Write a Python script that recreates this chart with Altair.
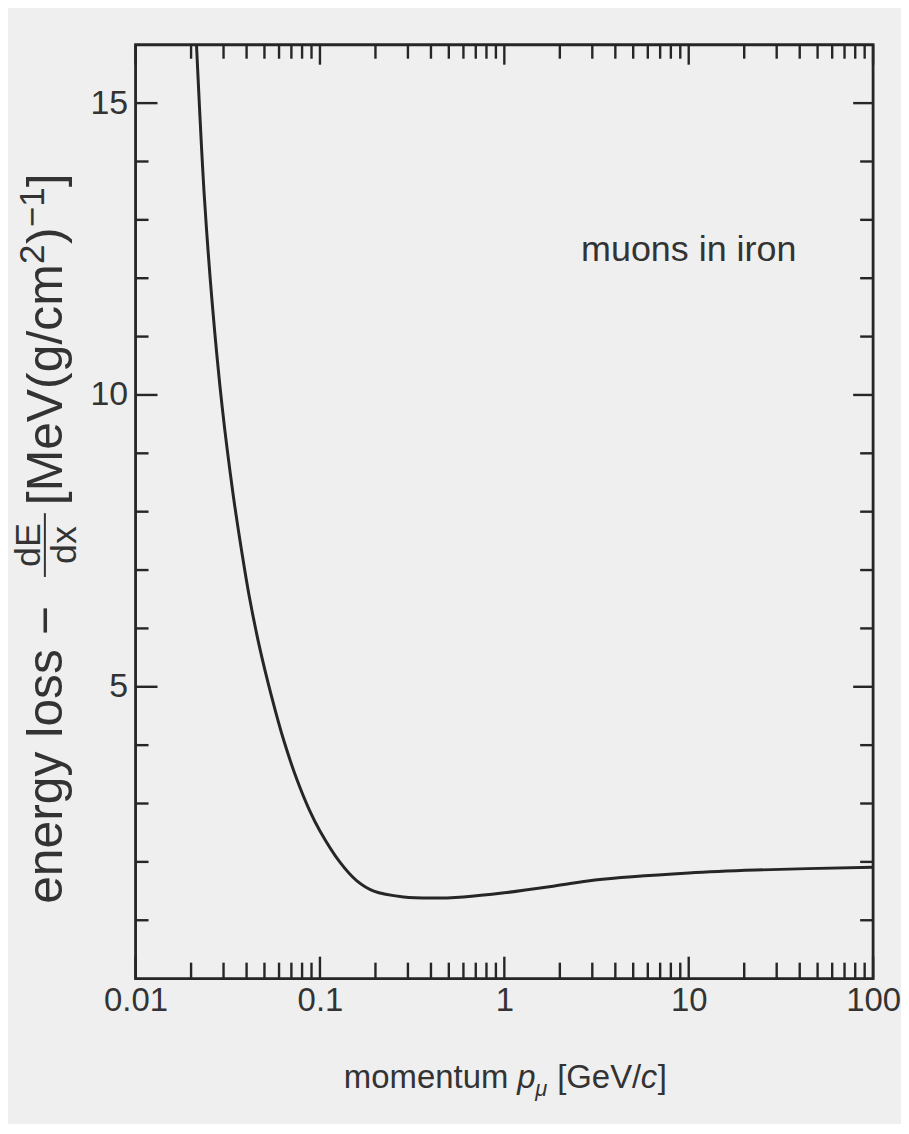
import altair as alt
import pandas as pd

# ---- data ----
momentum = [0.0205, 0.0214, 0.0222, 0.0236, 0.026, 0.0295, 0.0338, 0.0379, 0.0413, 0.0468,
            0.0545, 0.0638, 0.075, 0.0873, 0.1, 0.128, 0.158, 0.196, 0.284, 0.4,
            0.6, 1.0, 1.9, 3.1, 10, 23, 100]
energy_loss = [17.2, 16.0, 14.95, 13.4, 11.6, 9.79, 8.30, 7.26, 6.56, 5.71,
               4.85, 4.07, 3.41, 2.90, 2.53, 2.00, 1.68, 1.50, 1.40, 1.38,
               1.40, 1.47, 1.59, 1.69, 1.81, 1.86, 1.91]

x_major = [0.01, 0.1, 1, 10, 100]
x_minor = [m * d for d in [0.01, 0.1, 1, 10] for m in range(2, 10)]
y_major = [5, 10, 15]
y_minor = [v for v in range(1, 16) if v not in y_major]

W, H = 740, 937
INK = "#262626"
TXT = "#333333"
SANS = "Liberation Sans, Arial, Helvetica, sans-serif"

curve_df = pd.DataFrame({"p": momentum, "dedx": energy_loss})
xmaj_df = pd.DataFrame({"p": x_major})
xmin_df = pd.DataFrame({"p": x_minor})
ymaj_df = pd.DataFrame({"v": y_major})
ymin_df = pd.DataFrame({"v": y_minor})

xscale = alt.Scale(type="log", domain=[0.01, 100])
yscale = alt.Scale(domain=[0, 16])

x_axis = alt.Axis(values=x_major, format="~g", ticks=False, domain=False, grid=False,
                  labelFont=SANS, labelFontSize=33, labelColor=TXT,
                  labelPadding=6, labelFlush=False, labelOverlap=False, labelBound=False,
                  title=None)
y_axis = alt.Axis(values=y_major, format="d", ticks=False, domain=False, grid=False,
                  labelFont=SANS, labelFontSize=34, labelColor=TXT,
                  labelPadding=8, labelOverlap=False, title=None)

curve = alt.Chart(curve_df).mark_line(
    color=INK, strokeWidth=3, interpolate="catmull-rom", clip=True
).encode(
    x=alt.X("p:Q", scale=xscale, axis=x_axis),
    y=alt.Y("dedx:Q", scale=yscale, axis=y_axis),
)

def xticks(df, length, top):
    if top:
        return alt.Chart(df).mark_rule(color=INK, strokeWidth=2.4).encode(
            x=alt.X("p:Q", scale=xscale), y=alt.value(0), y2=alt.value(length))
    return alt.Chart(df).mark_rule(color=INK, strokeWidth=2.4).encode(
        x=alt.X("p:Q", scale=xscale), y=alt.value(H), y2=alt.value(H - length))

def yticks(df, length, right):
    if right:
        return alt.Chart(df).mark_rule(color=INK, strokeWidth=2.4).encode(
            y=alt.Y("v:Q", scale=yscale), x=alt.value(W), x2=alt.value(W - length))
    return alt.Chart(df).mark_rule(color=INK, strokeWidth=2.4).encode(
        y=alt.Y("v:Q", scale=yscale), x=alt.value(0), x2=alt.value(length))

ticks = [
    xticks(xmaj_df, 22, False), xticks(xmin_df, 16, False),
    xticks(xmaj_df, 20, True), xticks(xmin_df, 14, True),
    yticks(ymaj_df, 22, False), yticks(ymin_df, 13, False),
    yticks(ymaj_df, 20, True), yticks(ymin_df, 13, True),
]

def label(text, x, y, size, style="normal", angle=0, align="left"):
    return alt.Chart(pd.DataFrame({"t": [text]})).mark_text(
        font=SANS, fontSize=size, fontStyle=style, angle=angle, align=align,
        baseline="alphabetic", color=TXT
    ).encode(text="t:N", x=alt.value(x), y=alt.value(y))

# annotation
texts = [label("muons in iron", 447, 217, 36)]

# x-axis title: momentum p_mu [GeV/c]
xt_y = 1047
texts += [
    label("momentum", 209, xt_y, 33),
    label("p", 383, xt_y, 33, style="italic"),
    label("μ", 401, xt_y + 8, 22, style="italic"),
    label("[GeV/", 423, xt_y, 33),
    label("c", 507, xt_y, 33, style="italic"),
    label("]", 524, xt_y, 33),
]

# y-axis title: energy loss - dE/dx [MeV(g/cm^2)^-1]  (rotated, reads upward)
yb = -74      # baseline
ysup = -92    # raised baseline for superscripts
texts += [
    label("energy loss −", yb, 862, 50, angle=270),
    label("dE", -96, 502, 36, angle=270, align="center"),
    label("dx", -60, 502, 36, angle=270, align="center"),
    label("[MeV(g/cm", yb, 462, 50, angle=270),
    label("2", ysup, 220, 35, angle=270),
    label(")", yb, 200, 50, angle=270),
    label("−1", ysup, 183, 35, angle=270),
    label("]", yb, 143, 50, angle=270),
]
frac_bar = alt.Chart(pd.DataFrame({"a": [0]})).mark_rule(color=TXT, strokeWidth=2).encode(
    x=alt.value(-91), y=alt.value(470), y2=alt.value(534))

chart = alt.layer(curve, *ticks, *texts, frac_bar).properties(
    width=W, height=H,
    padding={"left": 128, "top": 35, "right": 28, "bottom": 144},
    autosize=alt.AutoSizeParams(type="none"),
    background="#efefef",
).configure_view(stroke=INK, strokeWidth=2.8)

chart.save("out.html", embed_options={"renderer": "svg", "actions": False})
